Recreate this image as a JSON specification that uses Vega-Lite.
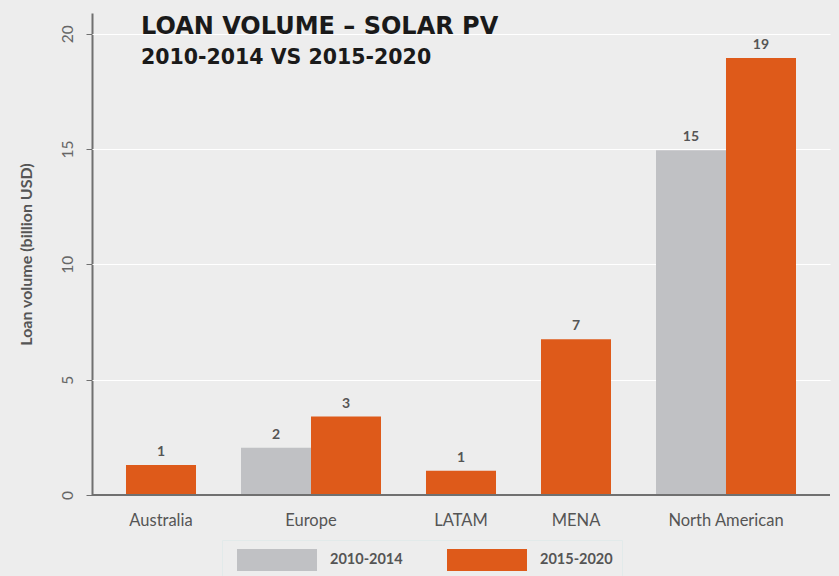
{
  "$schema": "https://vega.github.io/schema/vega-lite/v6.json",
  "background": "#ededed",
  "padding": {"left": 18, "top": 13, "right": 9, "bottom": 0},
  "title": {
    "text": "LOAN VOLUME – SOLAR PV",
    "subtitle": "2010-2014 VS 2015-2020",
    "anchor": "start",
    "frame": "group",
    "orient": "top",
    "offset": -55,
    "dx": 49,
    "font": "DejaVu Sans",
    "fontSize": 24,
    "fontWeight": "bold",
    "color": "#1a1a1a",
    "subtitleFont": "DejaVu Sans",
    "subtitleFontSize": 20.5,
    "subtitleFontWeight": "bold",
    "subtitleColor": "#1a1a1a",
    "subtitlePadding": 9
  },
  "data": {
    "values": [
      {"region": "Australia", "period": "2015-2020", "volume": 1.3},
      {"region": "Europe", "period": "2010-2014", "volume": 2.05},
      {"region": "Europe", "period": "2015-2020", "volume": 3.4},
      {"region": "LATAM", "period": "2015-2020", "volume": 1.05},
      {"region": "MENA", "period": "2015-2020", "volume": 6.75},
      {"region": "North American", "period": "2010-2014", "volume": 14.95},
      {"region": "North American", "period": "2015-2020", "volume": 18.95}
    ]
  },
  "facet": {
    "column": {
      "field": "region",
      "type": "nominal",
      "sort": ["Australia", "Europe", "LATAM", "MENA", "North American"],
      "header": {
        "title": null,
        "labelOrient": "bottom",
        "labelFont": "Lato",
        "labelFontSize": 16.5,
        "labelColor": "#555555",
        "labelPadding": 18
      }
    }
  },
  "spacing": -23,
  "resolve": {"scale": {"x": "independent"}},
  "spec": {
    "width": {"step": 70},
    "height": 482,
    "encoding": {
      "x": {
        "field": "period",
        "type": "nominal",
        "sort": ["2010-2014", "2015-2020"],
        "scale": {"paddingInner": 0, "paddingOuter": 0.4857},
        "axis": {"labels": false, "ticks": false, "title": null, "domain": true, "domainColor": "#707070", "domainWidth": 2, "grid": false, "zindex": 1, "translate": 0}
      },
      "y": {
        "field": "volume",
        "type": "quantitative",
        "scale": {"domain": [0, 20.9], "nice": false, "zero": true},
        "axis": {
          "title": "Loan volume (billion USD)",
          "values": [0, 5, 10, 15, 20],
          "labelAngle": -90,
          "labelFont": "Lato",
          "labelFontSize": 15.5,
          "labelColor": "#666666",
          "labelPadding": 11,
          "tickSize": 6,
          "tickColor": "#707070",
          "domainColor": "#707070",
          "domainWidth": 2,
          "grid": true,
          "gridColor": {"condition": {"test": "datum.value === 0", "value": "transparent"}, "value": "#ffffff"},
          "gridWidth": 1.2,
          "titleFont": "Lato",
          "titleFontSize": 16,
          "titleFontWeight": "bold",
          "titleColor": "#555555",
          "titlePadding": 26
        }
      }
    },
    "layer": [
      {
        "mark": {"type": "bar"},
        "encoding": {
          "color": {
            "field": "period",
            "type": "nominal",
            "scale": {"domain": ["2010-2014", "2015-2020"], "range": ["#c0c1c4", "#de5a1a"]},
            "legend": {
              "title": null,
              "orient": "none",
              "direction": "horizontal",
              "legendX": 130,
              "legendY": 527,
              "symbolType": "M-3.636,-1L3.636,-1L3.636,1L-3.636,1Z",
              "symbolSize": 484,
              "symbolOffset": 35,
              "symbolStrokeWidth": 0,
              "symbolOpacity": 1,
              "labelFont": "Lato",
              "labelFontSize": 14.5,
              "labelFontWeight": "bold",
              "labelColor": "#555555",
              "labelOffset": 42,
              "columnPadding": 38,
              "padding": 9,
              "strokeColor": "#e2eaea",
              "fillColor": "#ededed"
            }
          }
        }
      },
      {
        "mark": {"type": "text", "dy": -13, "font": "Lato", "fontSize": 14, "fontWeight": "bold", "color": "#555555"},
        "encoding": {
          "text": {"field": "volume", "type": "quantitative", "format": ".0f"}
        }
      }
    ]
  },
  "config": {
    "view": {"stroke": null}
  }
}
